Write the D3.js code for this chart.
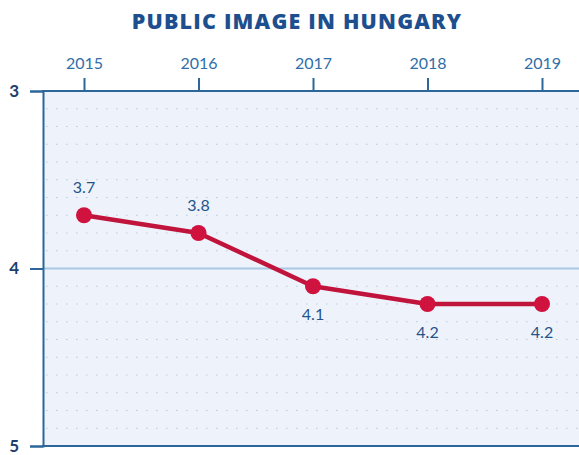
<!DOCTYPE html>
<html>
<head>
<meta charset="utf-8">
<script src="https://cdn.jsdelivr.net/npm/d3@7"></script>
<style>
  body { margin: 0; background: #fff; }
</style>
</head>
<body>
<div id="chart"></div>
<script>
// data
var years = [2015, 2016, 2017, 2018, 2019];
var values = [3.7, 3.8, 4.1, 4.2, 4.2];
var labels = ["3.7", "3.8", "4.1", "4.2", "4.2"];
var labelPos = ["above", "above", "below", "below", "below"];
var yTicks = [3, 4, 5];

var W = 579, H = 455;
var margin = {top: 91, right: -10, bottom: 9, left: 43};

var svg = d3.select("#chart").append("svg")
  .attr("width", W)
  .attr("height", H)
  .style("font-family", "Lato, sans-serif");

// title
svg.append("text")
  .attr("x", 297).attr("y", 29)
  .attr("text-anchor", "middle")
  .style("font-family", "'Open Sans', sans-serif")
  .style("font-size", "21.5px").style("font-weight", 800)
  .style("letter-spacing", "1.2px")
  .attr("fill", "#1d4f8f")
  .text("PUBLIC IMAGE IN HUNGARY");

var x = d3.scaleLinear().domain([2015, 2019]).range([84, 542]);
var y = d3.scaleLinear().domain([3, 5]).range([margin.top, H - margin.bottom]);

// plot background
svg.append("rect")
  .attr("x", margin.left).attr("y", y(3))
  .attr("width", W - margin.left).attr("height", y(5) - y(3))
  .attr("fill", "#eef3fb");

// dotted minor grid
var minor = d3.range(3.1, 5, 0.1).filter(function(v) { return Math.abs(v - 4) > 0.01; });
svg.append("g").selectAll("line")
  .data(minor)
  .enter().append("line")
    .attr("x1", margin.left + 3).attr("x2", W)
    .attr("y1", function(d) { return y(d); })
    .attr("y2", function(d) { return y(d); })
    .attr("stroke", "#b9c9dd")
    .attr("stroke-width", 1.2)
    .attr("stroke-dasharray", "1.5,8.5");

// gridline at 4
svg.append("line")
  .attr("x1", margin.left).attr("x2", W)
  .attr("y1", y(4)).attr("y2", y(4))
  .attr("stroke", "#a9c8e6").attr("stroke-width", 2);

// top axis
var xAxis = svg.append("g")
  .attr("transform", "translate(0," + y(3) + ")")
  .call(d3.axisTop(x).tickValues(years).tickFormat(d3.format("d")).tickSize(13).tickPadding(9));
xAxis.select(".domain").remove();
xAxis.selectAll(".tick line").attr("stroke", "#2d6799").attr("stroke-width", 2);
xAxis.selectAll(".tick text").attr("fill", "#2f6ea8")
  .style("font-size", "16px").style("font-family", "Lato, sans-serif");
svg.append("line")
  .attr("x1", margin.left - 1).attr("x2", W)
  .attr("y1", y(3)).attr("y2", y(3))
  .attr("stroke", "#2d6799").attr("stroke-width", 2);

// bottom line
svg.append("line")
  .attr("x1", margin.left - 1).attr("x2", W)
  .attr("y1", y(5)).attr("y2", y(5))
  .attr("stroke", "#2d6799").attr("stroke-width", 2);

// left axis
var yAxis = svg.append("g")
  .attr("transform", "translate(" + margin.left + ",0)")
  .call(d3.axisLeft(y).tickValues(yTicks).tickFormat(d3.format("d")).tickSize(13).tickPadding(11));
yAxis.select(".domain").attr("stroke", "#2d6799").attr("stroke-width", 2);
yAxis.selectAll(".tick line").attr("stroke", "#2d6799").attr("stroke-width", 2);
yAxis.selectAll(".tick text").attr("fill", "#1d3f6e")
  .style("font-size", "17px").style("font-weight", 700).style("font-family", "Lato, sans-serif");

// line
var line = d3.line()
  .x(function(d, i) { return x(years[i]); })
  .y(function(d) { return y(d); });

svg.append("path")
  .datum(values)
  .attr("d", line)
  .attr("fill", "none")
  .attr("stroke", "#c0143c")
  .attr("stroke-width", 4.5)
  .attr("stroke-linejoin", "round");

svg.append("g").selectAll("circle")
  .data(values)
  .enter().append("circle")
    .attr("cx", function(d, i) { return x(years[i]); })
    .attr("cy", function(d) { return y(d); })
    .attr("r", 8)
    .attr("fill", "#d0123f");

// value labels
svg.append("g").selectAll("text")
  .data(values)
  .enter().append("text")
    .attr("x", function(d, i) { return x(years[i]); })
    .attr("y", function(d, i) { return labelPos[i] == "above" ? y(d) - 22 : y(d) + 34; })
    .attr("text-anchor", "middle")
    .style("font-size", "16px")
    .attr("fill", "#24538a")
    .text(function(d, i) { return labels[i]; });
</script>
</body>
</html>
